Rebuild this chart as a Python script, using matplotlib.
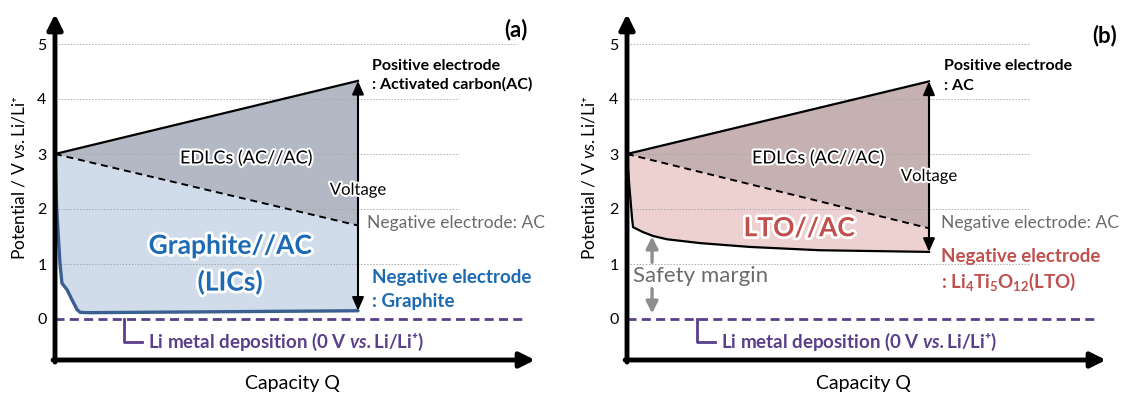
import matplotlib
matplotlib.use("Agg")
import matplotlib.pyplot as plt
import matplotlib.patheffects as pe
import numpy as np

plt.rcParams["font.family"] = ["Lato", "DejaVu Sans"]
plt.rcParams["mathtext.fontset"] = "custom"
plt.rcParams["mathtext.rm"] = "Lato"
plt.rcParams["mathtext.it"] = "Lato:italic"
plt.rcParams["mathtext.bf"] = "Lato:bold"
plt.rcParams["mathtext.bfit"] = "Lato:italic:bold"
plt.rcParams["lines.scale_dashes"] = False

# ---- data: normalised capacity Q vs. potential (V vs. Li/Li+) ----
ac_q = [0.0, 1.0]
pos_ac_a = [3.0, 4.33]          # positive electrode (AC), panel (a)
neg_ac_a = [3.0, 1.70]          # negative electrode if AC, panel (a)
graphite_q = [0.0, 0.0056, 0.0165, 0.023, 0.033, 0.040, 0.056, 0.073, 0.083, 0.115, 1.0]
graphite_v = [3.0, 2.0, 1.0, 0.65, 0.58, 0.53, 0.35, 0.17, 0.12, 0.115, 0.15]

pos_ac_b = [3.0, 4.32]          # positive electrode (AC), panel (b)
neg_ac_b = [3.0, 1.65]          # negative electrode if AC, panel (b)
lto_q = [0.0, 0.008, 0.0166, 0.020, 0.053, 0.086, 0.132, 0.242, 0.407, 0.639, 1.0]
lto_v = [3.0, 2.4, 1.84, 1.67, 1.58, 1.51, 1.45, 1.38, 1.31, 1.25, 1.22]

li_deposition_v = 0.0
grid_levels = [1, 2, 3, 4, 5]
tick_values = [0, 1, 2, 3, 4, 5]
safety_margin = [0.1, 1.5]

BLUE = "#1b6ab3"
RED = "#c0504d"
PURPLE = "#5a3f8a"
GRAYTXT = "#6b6b6b"

W, H = 1123, 394
fig = plt.figure(figsize=(W / 100, H / 100), dpi=100)


def make_axes(x0, x1, y_top, y_bot, qmax):
    ax = fig.add_axes([x0 / W, 1 - y_bot / H, (x1 - x0) / W, (y_bot - y_top) / H])
    ax.set_xlim(0, qmax)
    ax.set_ylim((319 - y_bot) / 55.0, (319 - y_top) / 55.0)
    for s in ax.spines.values():
        s.set_visible(False)
    ax.set_xticks([])
    ax.set_yticks(tick_values)
    ax.set_yticklabels([str(t) for t in tick_values], fontsize=11.5)
    ax.tick_params(axis="y", length=0, pad=6)
    ax.patch.set_alpha(0)
    # axis arrows
    hs = "-|>,head_width=0.45,head_length=0.9"
    ax.annotate("", xy=(0, 1), xytext=(0, -0.006), xycoords="axes fraction",
                arrowprops=dict(arrowstyle=hs, lw=3.5, color="k", shrinkA=0, shrinkB=0),
                zorder=10)
    ax.annotate("", xy=(1, 0), xytext=(-0.004, 0), xycoords="axes fraction",
                arrowprops=dict(arrowstyle=hs, lw=3.5, color="k", shrinkA=0, shrinkB=0),
                zorder=10)
    return ax


def glow(w=3):
    return [pe.withStroke(linewidth=w, foreground="white")]


def common(ax, pos_v, neg_v, low_q, low_v, top_fill, low_fill, grid_end, grid5_end,
           dep_end, bracket_q):
    # filled regions
    ax.fill([ac_q[0], ac_q[1], ac_q[1]], [pos_v[0], pos_v[1], neg_v[1]],
            color=top_fill, lw=0, zorder=1)
    ax.fill(np.r_[ac_q, low_q[::-1]], np.r_[neg_v, low_v[::-1]],
            color=low_fill, lw=0, zorder=1)
    # grid
    for g in grid_levels:
        ax.plot([0, grid5_end if g == 5 else grid_end], [g, g], ls=(0, (1, 1.2)),
                color="#a8a8a8", lw=0.7, zorder=2)
    ax.plot(ac_q, pos_v, color="k", lw=1.6, zorder=4)
    ax.plot(ac_q, neg_v, color="k", lw=1.4, ls=(0, (5, 3.5)), zorder=4)
    # Voltage arrow
    ax.annotate("", xy=(ac_q[1], pos_v[1]), xytext=(ac_q[1], low_v[-1]),
                arrowprops=dict(arrowstyle="<|-|>,head_width=0.35,head_length=0.8",
                                lw=1.5, color="k", shrinkA=0, shrinkB=0), zorder=6)
    # Li metal deposition line and bracket
    ax.plot([0, dep_end], [li_deposition_v, li_deposition_v], color=PURPLE, lw=2,
            ls=(0, (6.5, 3.8)), zorder=5)
    ax.plot([bracket_q, bracket_q, bracket_q + 0.06], [li_deposition_v, -0.42, -0.42],
            color=PURPLE, lw=2, zorder=5)
    ax.text(bracket_q + 0.078, -0.42,
            "Li metal deposition (0 V $\\mathbfit{vs.}$Li/Li\u207a)",
            color=PURPLE, fontsize=13.5, fontweight="bold", va="center", ha="left")
    ax.text(0.5 * ax.get_xlim()[1] - 0.01, -1.17, "Capacity Q", fontsize=14,
            ha="center", va="center", clip_on=False)


# ---------------- panel (a) ----------------
axa = make_axes(55, 535, 14, 360, 480 / 303)
common(axa, pos_ac_a, neg_ac_a, np.array(graphite_q), np.array(graphite_v),
       "#b3b8c5", "#d0dcea", 1.333, 1.525, 1.545, 0.228)
axa.plot(graphite_q, graphite_v, color="#3c5f91", lw=2.4, zorder=4, solid_capstyle="round")
axa.text(0.63, 2.92, "EDLCs (AC//AC)", fontsize=13, ha="center", va="center",
         path_effects=glow(3), zorder=7)
axa.text(1.0, 2.35, "Voltage", fontsize=12, ha="center", va="center",
         path_effects=glow(3), zorder=7)
axa.text(0.578, 1.33, "Graphite//AC", fontsize=19, fontweight="bold", color=BLUE,
         ha="center", va="center", path_effects=glow(4), zorder=7)
axa.text(0.578, 0.67, "(LICs)", fontsize=19, fontweight="bold", color=BLUE,
         ha="center", va="center", path_effects=glow(4), zorder=7)
axa.text(1.045, 4.6, "Positive electrode", fontsize=11.5, fontweight="bold",
         ha="left", va="center")
axa.text(1.045, 4.27, ": Activated carbon(AC)", fontsize=11.5, fontweight="bold",
         ha="left", va="center")
axa.text(1.03, 1.75, "Negative electrode: AC", fontsize=12.5, color=GRAYTXT,
         ha="left", va="center")
axa.text(1.045, 0.75, "Negative electrode", fontsize=13.5, fontweight="bold",
         color=BLUE, ha="left", va="center")
axa.text(1.045, 0.31, ": Graphite", fontsize=13.5, fontweight="bold",
         color=BLUE, ha="left", va="center")
axa.text(1.52, 5.27, "(a)", fontsize=16, fontweight="bold", ha="center", va="center",
         clip_on=False)

# ---------------- panel (b) ----------------
axb = make_axes(627, 1106, 14, 360, 479 / 302)
common(axb, pos_ac_b, neg_ac_b, np.array(lto_q), np.array(lto_v),
       "#c5b0b2", "#edd1d1", 1.334, 1.334, 1.55, 0.232)
axb.plot(lto_q, lto_v, color="k", lw=1.6, zorder=4)
axb.text(0.632, 2.92, "EDLCs (AC//AC)", fontsize=13, ha="center", va="center",
         path_effects=glow(3), zorder=7)
axb.text(1.0, 2.6, "Voltage", fontsize=12, ha="center", va="center",
         path_effects=glow(3), zorder=7)
axb.text(0.57, 1.65, "LTO//AC", fontsize=19, fontweight="bold", color=RED,
         ha="center", va="center", path_effects=glow(4), zorder=7)
axb.text(1.05, 4.6, "Positive electrode", fontsize=11.5, fontweight="bold",
         ha="left", va="center")
axb.text(1.05, 4.24, ": AC", fontsize=11.5, fontweight="bold", ha="left", va="center")
axb.text(1.04, 1.75, "Negative electrode: AC", fontsize=12.5, color=GRAYTXT,
         ha="left", va="center")
axb.text(1.04, 1.13, "Negative electrode", fontsize=13.5, fontweight="bold",
         color=RED, ha="left", va="center")
axb.text(1.04, 0.67, ": $\\mathbf{Li_4Ti_5O_{12}}$(LTO)", fontsize=13.5, fontweight="bold",
         color=RED, ha="left", va="center")
axb.text(1.582, 5.15, "(b)", fontsize=16, fontweight="bold", ha="center", va="center",
         clip_on=False)
# safety margin double arrow (split around its label)
sm_q = 0.083
hs2 = "-|>,head_width=0.35,head_length=0.7"
axb.annotate("", xy=(sm_q, safety_margin[1]), xytext=(sm_q, 1.03),
             arrowprops=dict(arrowstyle=hs2, lw=2.4, color="#8e8e8e", shrinkA=0, shrinkB=0))
axb.annotate("", xy=(sm_q, safety_margin[0]), xytext=(sm_q, 0.55),
             arrowprops=dict(arrowstyle=hs2, lw=2.4, color="#8e8e8e", shrinkA=0, shrinkB=0))
axb.text(0.02, 0.79, "Safety margin", fontsize=16, color=GRAYTXT, ha="left", va="center")

# y-axis labels
for xpx in (19, 589):
    fig.text(xpx / W, 1 - 178 / H, "Potential / V $\\mathit{vs.}$Li/Li\u207a",
             rotation=90, fontsize=12.5, ha="center", va="center")

fig.savefig("out.png", dpi=100)
